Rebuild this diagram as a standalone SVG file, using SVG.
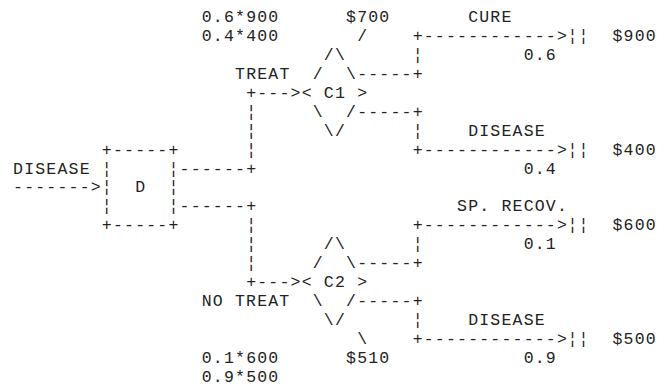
<svg xmlns="http://www.w3.org/2000/svg" width="672" height="390" viewBox="0 0 672 390">
<style>
.t{font-family:"Liberation Mono","DejaVu Sans Mono",monospace;font-size:16.5px;letter-spacing:1.2px;fill:#222}
</style>
<rect width="672" height="390" fill="#fff"/>
<g id="connectors" class="t">
<text x="13.05" y="192.45">-------&gt;</text>
<text x="179.55" y="173.5">------+</text>
<text x="179.55" y="211.4">------+</text>
<text x="246.15" y="116.65">¦</text>
<text x="246.15" y="135.6">¦</text>
<text x="246.15" y="154.55">¦</text>
<text x="246.15" y="230.35">¦</text>
<text x="246.15" y="249.3">¦</text>
<text x="246.15" y="268.25">¦</text>
<text x="246.15" y="97.7">+---&gt;</text>
<text x="246.15" y="287.2">+---&gt;</text>
<text x="357.15" y="78.75">-----+</text>
<text x="357.15" y="116.65">-----+</text>
<text x="357.15" y="268.25">-----+</text>
<text x="357.15" y="306.15">-----+</text>
<text x="412.65" y="59.8">¦</text>
<text x="412.65" y="135.6">¦</text>
<text x="412.65" y="249.3">¦</text>
<text x="412.65" y="325.1">¦</text>
<text x="412.65" y="40.85">+------------&gt;</text>
<text x="412.65" y="154.55">+------------&gt;</text>
<text x="412.65" y="230.35">+------------&gt;</text>
<text x="412.65" y="344.05">+------------&gt;</text>
</g>
<g id="node-D" class="t">
<text x="101.85" y="154.55">+-----+</text>
<text x="101.85" y="173.5">¦</text>
<text x="168.45" y="173.5">¦</text>
<text x="101.85" y="192.45">¦</text>
<text x="135.15" y="192.45">D</text>
<text x="168.45" y="192.45">¦</text>
<text x="101.85" y="211.4">¦</text>
<text x="168.45" y="211.4">¦</text>
<text x="101.85" y="230.35">+-----+</text>
</g>
<g id="node-C1" class="t">
<text x="323.85" y="59.8">/\</text>
<text x="312.75" y="78.75">/</text>
<text x="346.05" y="78.75">\</text>
<text x="301.65" y="97.7">&lt;</text>
<text x="323.85" y="97.7">C1</text>
<text x="357.15" y="97.7">&gt;</text>
<text x="312.75" y="116.65">\</text>
<text x="346.05" y="116.65">/</text>
<text x="323.85" y="135.6">\/</text>
</g>
<g id="node-C2" class="t">
<text x="323.85" y="249.3">/\</text>
<text x="312.75" y="268.25">/</text>
<text x="346.05" y="268.25">\</text>
<text x="301.65" y="287.2">&lt;</text>
<text x="323.85" y="287.2">C2</text>
<text x="357.15" y="287.2">&gt;</text>
<text x="312.75" y="306.15">\</text>
<text x="346.05" y="306.15">/</text>
<text x="323.85" y="325.1">\/</text>
</g>
<g id="node-end-cure" class="t"><text x="567.45" y="40.85">¦¦</text><text x="612.45" y="40.85">$900</text></g>
<g id="node-end-disease1" class="t"><text x="567.45" y="154.55">¦¦</text><text x="612.45" y="154.55">$400</text></g>
<g id="node-end-recov" class="t"><text x="567.45" y="230.35">¦¦</text><text x="612.45" y="230.35">$600</text></g>
<g id="node-end-disease2" class="t"><text x="567.45" y="344.05">¦¦</text><text x="612.45" y="344.05">$500</text></g>
<g id="labels" class="t">
<text x="13.05" y="173.5">DISEASE</text>
<text x="235.05" y="78.75">TREAT</text>
<text x="201.75" y="306.15">NO</text>
<text x="234.95" y="306.15">TREAT</text>
<text x="201.75" y="21.9">0.6*900</text>
<text x="201.75" y="40.85">0.4*400</text>
<text x="201.75" y="363">0.1*600</text>
<text x="201.75" y="381.95">0.9*500</text>
<text x="346.05" y="21.9">$700</text>
<text x="357.15" y="40.85">/</text>
<text x="357.15" y="344.05">\</text>
<text x="346.05" y="363">$510</text>
<text x="468.15" y="21.9">CURE</text>
<text x="523.65" y="59.8">0.6</text>
<text x="468.15" y="135.6">DISEASE</text>
<text x="523.65" y="173.5">0.4</text>
<text x="457.05" y="211.4">SP.</text>
<text x="501.45" y="211.4">RECOV.</text>
<text x="523.65" y="249.3">0.1</text>
<text x="468.15" y="325.1">DISEASE</text>
<text x="523.65" y="363">0.9</text>
</g>
</svg>
